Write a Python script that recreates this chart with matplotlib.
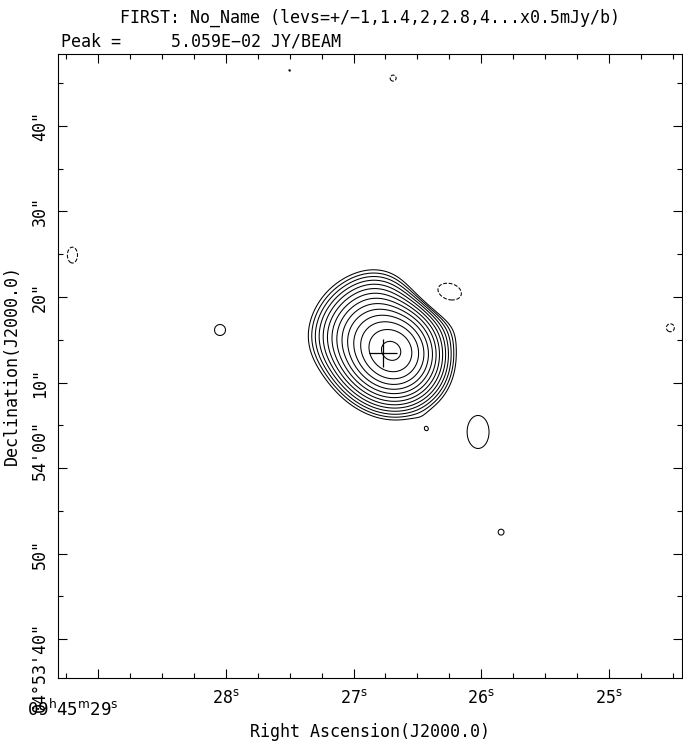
"""FIRST cutout contour map of a compact radio source."""
import numpy as np
import matplotlib.pyplot as plt
from matplotlib.ticker import MultipleLocator
from matplotlib.transforms import offset_copy

# Map extent: RA seconds past 09h45m, Dec arcsec offset from +04d54'00"
ra_lim = (29.313, 24.429)
dec_lim = (-24.56, 48.42)

# Contour levels (multiples of 0.5 mJy/beam)
base_level = 0.5
level_factors = [1, 1.414, 2, 2.828, 4, 5.657, 8, 11.31, 16, 22.63, 32, 45.25, 64, 90.51]

# Emission components (RA s, Dec ", mJy, sigma_u ", sigma_v ", angle deg)
comp_ra = [26.664, 26.798, 26.814, 27.147, 26.261,
           28.045, 26.025, 26.276, 26.425, 25.845, 26.690, 27.500, 24.520, 29.200]
comp_dec = [13.60, 14.10, 19.07, 15.07, 16.77,
            16.14, 4.21, 20.10, 4.44, -7.50, 45.60, 46.50, 16.40, 24.90]
comp_amp = [31.0, 22.0, 1.8, 0.5, 0.3,
            0.52, 0.69, -0.64, 0.45, 0.5058, -0.506, 0.5005, -0.5105, -0.517]
comp_su = [2.45, 3.2, 2.2, 2.2, 1.8,
           2.3, 1.6, 3.0, 1.0, 2.3, 2.3, 2.3, 2.3, 2.3]
comp_sv = [2.3, 2.6, 2.2, 2.2, 1.8,
           2.3, 2.4, 2.3, 1.0, 2.3, 2.3, 2.3, 2.3, 3.6]
comp_ang = [65, 50, 0, 0, 0,
            0, 0, 0, 0, 0, 0, 0, 0, 0]

# Cross marking the catalogue position
cross_ra = [26.769]
cross_dec = [13.45]

# Axis ticks
ra_ticks = [29, 28, 27, 26, 25]
ra_labels = ['', '28$^{\\rm s}$', '27$^{\\rm s}$', '26$^{\\rm s}$', '25$^{\\rm s}$']
dec_ticks = [-20, -10, 0, 10, 20, 30, 40]
dec_labels = ['04\u00b053\'40"', '50"', '54\'00"', '10"', '20"', '30"', '40"']
dec_label_shift = [17, 15, 48, 15, 15, 15, 15]   # px above the tick where each label ends

# Build the image on a grid
ra = np.linspace(ra_lim[0], ra_lim[1], 620)
dec = np.linspace(dec_lim[0], dec_lim[1], 620)
RA, DEC = np.meshgrid(ra, dec)
img = np.zeros_like(RA)
for r0, d0, a, su, sv, ang in zip(comp_ra, comp_dec, comp_amp, comp_su, comp_sv, comp_ang):
    dx = (RA - r0) * 15.0
    dy = DEC - d0
    t = np.radians(ang)
    u = dx * np.cos(t) + dy * np.sin(t)
    v = -dx * np.sin(t) + dy * np.cos(t)
    img += a * np.exp(-0.5 * ((u / su) ** 2 + (v / sv) ** 2))

pos = [base_level * f for f in level_factors]
levels = [-p for p in pos[::-1]] + pos

plt.rcParams['font.family'] = 'DejaVu Sans Mono'
fs = 12
fig = plt.figure(figsize=(6.83, 7.46), dpi=100)
W, H = 683, 746
ax = fig.add_axes([58 / W, 1 - 678 / H, 624 / W, 624 / H])

ax.contour(RA, DEC, img, levels=levels, colors='k', linewidths=0.75,
           negative_linestyles='dashed')
ax.plot(cross_ra, cross_dec, marker='+', ms=20, mew=0.9, color='k', ls='none')

ax.set_xlim(*ra_lim)
ax.set_ylim(*dec_lim)

ax.set_xticks(ra_ticks)
ax.set_xticklabels(ra_labels, fontsize=fs)
ax.xaxis.set_minor_locator(MultipleLocator(0.25))
ax.set_yticks(dec_ticks)
ax.set_yticklabels([])
ax.yaxis.set_minor_locator(MultipleLocator(5))
ax.tick_params(which='both', direction='in', top=True, right=True, width=0.8)
ax.tick_params(which='major', length=6.5)
ax.tick_params(which='minor', length=3.6)
ax.tick_params(axis='x', pad=8)
for s in ax.spines.values():
    s.set_linewidth(0.8)

# Dec labels drawn rotated, each ending a little above its tick
for yt, lab, sh in zip(dec_ticks, dec_labels, dec_label_shift):
    tr = offset_copy(ax.get_yaxis_transform(), fig=fig, x=-13, y=sh, units='dots')
    ax.text(0.0, yt, lab, transform=tr, rotation=90, rotation_mode='anchor',
            ha='right', va='baseline', fontsize=fs)

ax.text(29.20, -0.033, '09$^{\\rm h}$45$^{\\rm m}$29$^{\\rm s}$',
        transform=ax.get_xaxis_transform(), ha='center', va='top', fontsize=fs + 0.5)

fig.text(370 / W, 1 - 18 / H, 'FIRST: No_Name (levs=+/\u22121,1.4,2,2.8,4...x0.5mJy/b)',
         ha='center', va='center', fontsize=fs)
fig.text(61 / W, 1 - 41 / H, 'Peak =     5.059E\u221202 JY/BEAM', ha='left', va='center',
         fontsize=fs)
fig.text(370 / W, 1 - 732 / H, 'Right Ascension(J2000.0)', ha='center', va='center', fontsize=fs)
fig.text(12 / W, 1 - 365 / H, 'Declination(J2000.0)', ha='center', va='center',
         rotation=90, fontsize=fs)

fig.savefig('out.png', dpi=100)
